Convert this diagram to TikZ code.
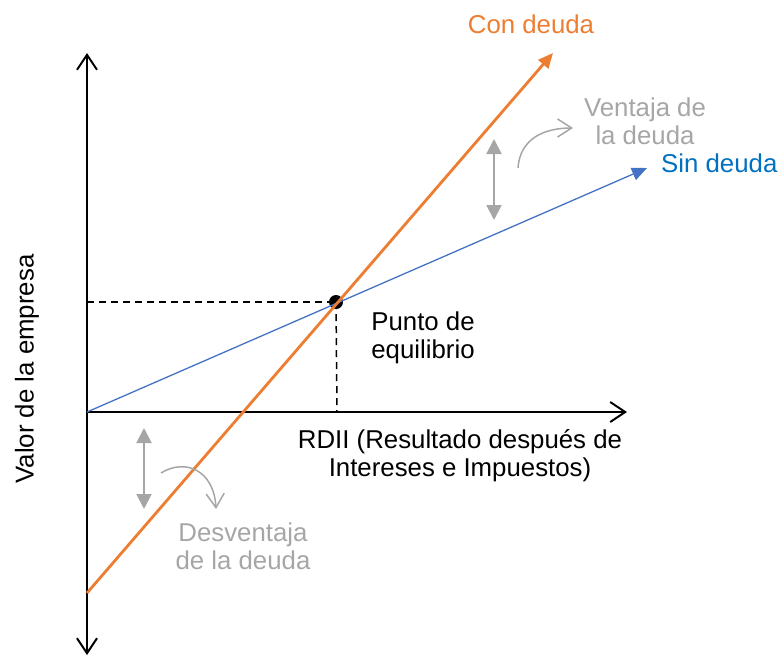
\documentclass[tikz,border=0pt]{standalone}
\usepackage{fontspec}
\setmainfont{Liberation Sans}
\usetikzlibrary{arrows.meta}
\definecolor{orng}{HTML}{ED7D31}
\definecolor{blueline}{HTML}{4472C4}
\definecolor{bluetxt}{HTML}{0070C0}
\definecolor{gry}{HTML}{A6A6A6}
\begin{document}
\begin{tikzpicture}[x=1pt,y=-1pt,
  lbl/.style={font=\fontsize{25.8}{28}\selectfont, inner sep=0pt, align=center},
  axis/.style={line width=2pt, black, {Straight Barb[length=15pt,width=20pt]}-{Straight Barb[length=15pt,width=20pt]}},
  axisone/.style={line width=2pt, black, -{Straight Barb[length=15pt,width=20pt]}},
  dline/.style={line width=1.5pt, black, dash pattern=on 7pt off 5pt},
  gdouble/.style={line width=2pt, gry, {Triangle[length=15pt,width=15pt]}-{Triangle[length=15pt,width=15pt]}},
  gcurve/.style={line width=1.5pt, gry, -{Straight Barb[length=14pt,width=18pt]}}]
\useasboundingbox (0,0) rectangle (782,657);
% coordinates
\coordinate (O) at (87,412);
\coordinate (ytop) at (87,53);
\coordinate (ybot) at (87,655);
\coordinate (xend) at (627,412);
\coordinate (A) at (87,593);
\coordinate (B) at (553,53);
\coordinate (S) at (647,168);
\coordinate (Y) at (87,302);
\coordinate (X) at (337,412);
% axes
\draw[axis] (ybot) -- (ytop);
\draw[axisone] (O) -- (xend);
% dashed guides
\node[circle, fill=black, minimum size=14pt, inner sep=0pt] (E) at (336,302) {};
\draw[dline] (Y) -- (E.center);
\draw[dline] (E.center) -- (X);
% lines
\draw[line width=1.3pt, blueline, -{Triangle[length=15pt,width=13pt]}] (O) -- (S);
\draw[line width=2.8pt, orng, -{Triangle[length=15pt,width=13pt]}] (A) -- (B);
% gray annotation arrows
\coordinate (g1a) at (494,139);
\coordinate (g1b) at (494,220);
\draw[gdouble] (g1a) -- (g1b);
\coordinate (g2a) at (144,428);
\coordinate (g2b) at (144,509);
\draw[gdouble] (g2a) -- (g2b);
\coordinate (c1a) at (518,168);
\coordinate (c1b) at (573,128);
\draw[gcurve] (c1a) .. controls (520,138) and (545,128) .. (c1b);
\coordinate (c2a) at (161,473);
\coordinate (c2b) at (216,509);
\draw[gcurve] (c2a) .. controls (185,458) and (214,470) .. (c2b);
% labels
\node[lbl, orng, anchor=base] (con) at (531,33) {Con deuda};
\node[lbl, bluetxt, anchor=base west] (sin) at (661,172) {Sin deuda};
\node[lbl, gry, anchor=base] (ventaja) at (645,144) {Ventaja de\\la deuda};
\node[lbl, gry, anchor=base] (desv) at (243,569) {Desventaja\\de la deuda};
\node[lbl, black, anchor=base] (punto) at (423,358) {Punto de\\equilibrio};
\node[lbl, black, anchor=base] (rdii) at (460,476) {RDII (Resultado después de\\Intereses e Impuestos)};
\node[lbl, black, rotate=90, anchor=center] (valor) at (27,369) {Valor de la empresa};
\end{tikzpicture}
\end{document}
